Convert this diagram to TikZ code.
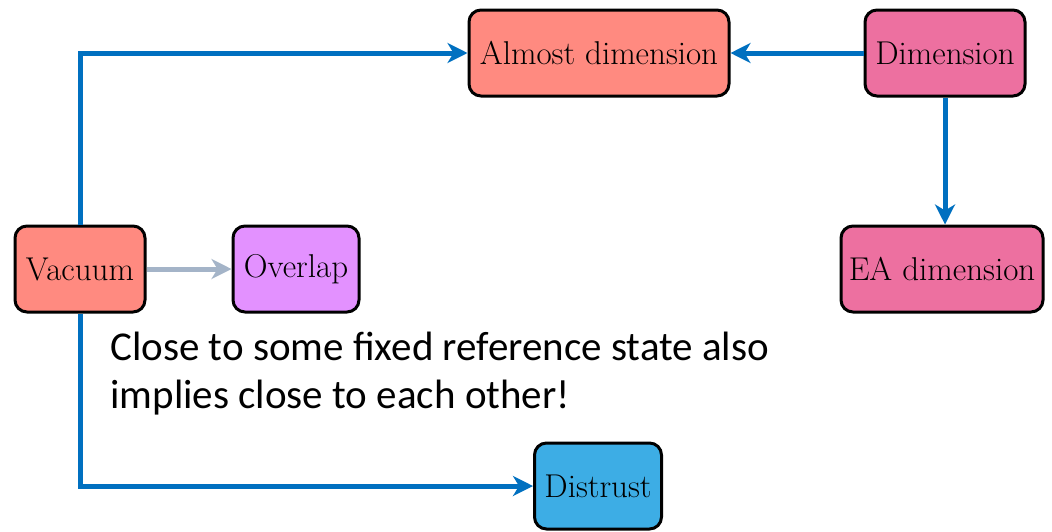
\documentclass[tikz,border=0pt]{standalone}
\usepackage{fontspec}
\newfontfamily\notefont{Carlito}
\usetikzlibrary{arrows.meta}
\definecolor{salmon}{RGB}{255,138,128}
\definecolor{rosepink}{RGB}{237,112,160}
\definecolor{lilac}{RGB}{227,145,255}
\definecolor{skyblue}{RGB}{61,173,229}
\definecolor{linkblue}{RGB}{0,112,192}
\definecolor{softgray}{RGB}{164,180,200}
\tikzset{
  box/.style={draw=black, line width=1.5pt, rounded corners=6pt, inner sep=0pt,
    minimum height=43pt, font=\fontsize{16.5}{19}\selectfont},
  link/.style={draw=linkblue, line width=2.5pt,
    -{Stealth[length=10pt,width=10pt,inset=3pt]}},
  faint/.style={draw=softgray, line width=2.5pt,
    -{Stealth[length=10pt,width=10pt,inset=3pt]}},
}
\begin{document}
\begin{tikzpicture}[x=0.5pt,y=-0.5pt]
\useasboundingbox (0,0) rectangle (1052,531);
\node[box, fill=salmon, minimum width=130pt] (almost) at (599,53) {Almost dimension};
\node[box, fill=rosepink, minimum width=80pt] (dim) at (945,53) {Dimension};
\node[box, fill=rosepink, minimum width=101pt] (ea) at (942,269) {EA dimension};
\node[box, fill=salmon, minimum width=65pt] (vac) at (80,269) {Vacuum};
\node[box, fill=lilac, minimum width=63pt] (ovl) at (296,269) {Overlap};
\node[box, fill=skyblue, minimum width=63.5pt] (dis) at (598,486) {Distrust};
% the note: its base anchor sits on the baseline of the second line
\node[anchor=base west, inner sep=0pt, align=left,
  font=\notefont\fontsize{20.5}{24}\selectfont] (note) at (110,408)
  {Close to some fixed reference state also\\implies close to each other!};
\draw[link] (vac.north) |- (almost.west);
\draw[link] (dim.west) -- (almost.east);
\draw[link] (dim.south) -- (dim.south |- ea.north);
\draw[faint] (vac.east) -- (ovl.west);
\draw[link] (vac.south) |- (dis.west);
\end{tikzpicture}
\end{document}
